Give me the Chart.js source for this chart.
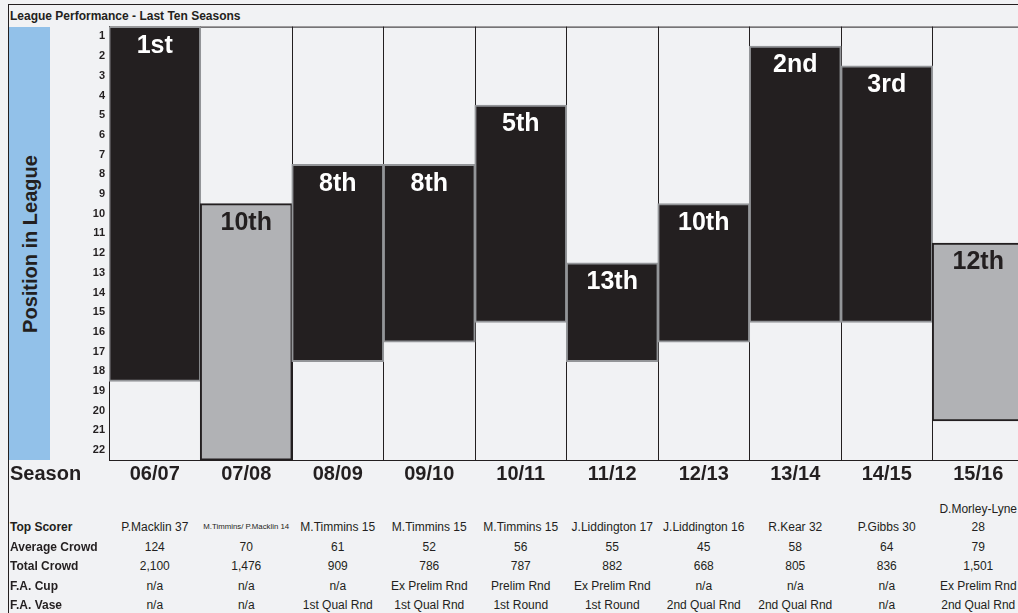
<!DOCTYPE html>
<html>
<head>
<meta charset="utf-8">
<title>League Performance - Last Ten Seasons</title>
<script src="https://cdn.jsdelivr.net/npm/chart.js@4.4.1/dist/chart.umd.min.js"></script>
<style>
    html, body { margin: 0; padding: 0; background: #f1f2f4; overflow: hidden; }
    #page { position: relative; width: 1018px; height: 613px; overflow: hidden; font-family: "Liberation Sans", Arial, sans-serif; color: #231f20; }
    #frame { position: absolute; left: 8px; top: 4px; width: 1100px; height: 700px; border-top: 1px solid #231f20; border-left: 1px solid #231f20; }
    #title { position: absolute; left: 10px; top: 9px; font-size: 12px; font-weight: bold; white-space: nowrap; }
    #ytitle { position: absolute; left: 9px; top: 27px; width: 41px; height: 433px; background: #92c1e9; }
    #ytitle span { position: absolute; left: 50%; top: 50%; transform: translate(-50%, -50%) rotate(-90deg); white-space: nowrap; font-size: 20px; font-weight: bold; }
    #chartBox { position: absolute; left: 50px; top: 16px; width: 980px; height: 474px; }
    #seasonLabel { position: absolute; left: 10px; top: 462px; font-size: 20px; font-weight: bold; }
    .rowLabel { position: absolute; left: 10px; font-size: 12px; font-weight: bold; line-height: 18px; white-space: nowrap; }
    .cell { position: absolute; font-size: 12px; line-height: 18px; text-align: center; }
</style>
</head>
<body>
<div id="page">
    <div id="frame"></div>
    <div id="title">League Performance - Last Ten Seasons</div>
    <div id="ytitle"><span>Position in League</span></div>
    <div id="chartBox"><canvas id="league-chart"></canvas></div>
    <div id="seasonLabel">Season</div>
    <div id="table"></div>
</div>
<script>
// season data
const seasons = ['06/07', '07/08', '08/09', '09/10', '10/11', '11/12', '12/13', '13/14', '14/15', '15/16'];
const finishPos = [1, 10, 8, 8, 5, 13, 10, 2, 3, 12];
const barBottom = [18, 22, 17, 16, 15, 17, 16, 15, 15, 20];
const greyBar = [false, true, false, false, false, false, false, false, false, true];
const positionTicks = [1, 2, 3, 4, 5, 6, 7, 8, 9, 10, 11, 12, 13, 14, 15, 16, 17, 18, 19, 20, 21, 22];

const topScorer = ['P.Macklin 37', 'M.Timmins/ P.Macklin 14', 'M.Timmins 15', 'M.Timmins 15', 'M.Timmins 15', 'J.Liddington 17', 'J.Liddington 16', 'R.Kear 32', 'P.Gibbs 30', 'D.Morley-Lyne 28'];
const avgCrowd = ['124', '70', '61', '52', '56', '55', '45', '58', '64', '79'];
const totalCrowd = ['2,100', '1,476', '909', '786', '787', '882', '668', '805', '836', '1,501'];
const faCup = ['n/a', 'n/a', 'n/a', 'Ex Prelim Rnd', 'Prelim Rnd', 'Ex Prelim Rnd', 'n/a', 'n/a', 'n/a', 'Ex Prelim Rnd'];
const faVase = ['n/a', 'n/a', '1st Qual Rnd', '1st Qual Rnd', '1st Round', '1st Round', '2nd Qual Rnd', '2nd Qual Rnd', 'n/a', '2nd Qual Rnd'];

const FONT = '"Liberation Sans", Arial, sans-serif';
const DARK = '#231f20';

function ordinal(n) {
    const teen = n % 100 >= 11 && n % 100 <= 13;
    const suffix = teen ? 'th' : ({ 1: 'st', 2: 'nd', 3: 'rd' }[n % 10] || 'th');
    return n + suffix;
}

// line along the top of the plot area
const topLine = {
    id: 'topLine',
    beforeDatasetsDraw(chart) {
        const { ctx, chartArea } = chart;
        ctx.save();
        ctx.strokeStyle = DARK;
        ctx.lineWidth = 1;
        ctx.beginPath();
        ctx.moveTo(chartArea.left, chartArea.top + 0.5);
        ctx.lineTo(chartArea.right, chartArea.top + 0.5);
        ctx.stroke();
        ctx.restore();
    }
};

// "1st", "10th"... written at the top of each bar
const barLabels = {
    id: 'barLabels',
    afterDatasetsDraw(chart) {
        const ctx = chart.ctx;
        const meta = chart.getDatasetMeta(0);
        ctx.save();
        ctx.font = `bold 25px ${FONT}`;
        ctx.textAlign = 'center';
        ctx.textBaseline = 'alphabetic';
        meta.data.forEach((bar, i) => {
            const top = Math.min(bar.y, bar.base);
            ctx.fillStyle = greyBar[i] ? DARK : '#ffffff';
            ctx.fillText(ordinal(finishPos[i]), bar.x, top + 26);
        });
        ctx.restore();
    }
};

function initChart() {
    const canvas = document.getElementById('league-chart');
    return new Chart(canvas.getContext('2d'), {
        type: 'bar',
        data: {
            labels: seasons,
            datasets: [{
                data: seasons.map((s, i) => [finishPos[i] - 1, barBottom[i]]),
                backgroundColor: greyBar.map(g => g ? '#b1b2b5' : DARK),
                borderColor: greyBar.map(g => g ? DARK : '#939598'),
                borderWidth: 2,
                inflateAmount: 0.6,
                borderSkipped: false,
                barPercentage: 1,
                categoryPercentage: 1
            }]
        },
        options: {
            responsive: true, maintainAspectRatio: false, animation: false,
            layout: { padding: { top: 0, right: 6, bottom: 0, left: 0 } },
            plugins: { legend: { display: false }, tooltip: { enabled: false } },
            scales: {
                x: {
                    offset: true,
                    grid: { display: true, offset: true, color: DARK, lineWidth: 1, drawTicks: false },
                    border: { display: true, color: DARK, width: 1 },
                    ticks: { color: DARK, font: { family: FONT, size: 20, weight: 'bold' }, padding: 2, maxRotation: 0, autoSkip: false },
                    afterFit: scale => { scale.height = 30; }
                },
                y: {
                    min: 0, max: 22, reverse: true,
                    grid: { display: false, drawTicks: false },
                    border: { display: true, color: DARK, width: 1 },
                    afterBuildTicks: scale => { scale.ticks = positionTicks.map(p => ({ value: p - 0.5 })); },
                    ticks: {
                        color: DARK, padding: 4, autoSkip: false,
                        font: { family: FONT, size: 11, weight: 'bold' },
                        callback: value => String(value + 0.5)
                    },
                    afterFit: scale => { scale.width = 59; }
                }
            }
        },
        plugins: [topLine, barLabels]
    });
}

function renderTable() {
    const rows = [
        ['Top Scorer', topScorer],
        ['Average Crowd', avgCrowd],
        ['Total Crowd', totalCrowd],
        ['F.A. Cup', faCup],
        ['F.A. Vase', faVase]
    ];
    const rowCenters = [527, 547, 566, 586, 605];
    const colLeft = 109, colWidth = 91.5;
    let html = '';
    rows.forEach(([name, values], r) => {
        const yc = rowCenters[r];
        html += `<div class="rowLabel" style="top:${yc - 9}px">${name}</div>`;
        values.forEach((v, i) => {
            // the 07/08 scorer cell is squeezed into a smaller font
            const small = r === 0 && i === 1 ? 'font-size:7.8px;' : '';
            html += `<div class="cell" style="left:${colLeft + colWidth * i}px;width:${colWidth}px;bottom:${613 - (yc + 9)}px;${small}">${v}</div>`;
        });
    });
    document.getElementById('table').innerHTML = html;
}

document.addEventListener('DOMContentLoaded', () => {
    initChart();
    renderTable();
});
</script>
</body>
</html>
